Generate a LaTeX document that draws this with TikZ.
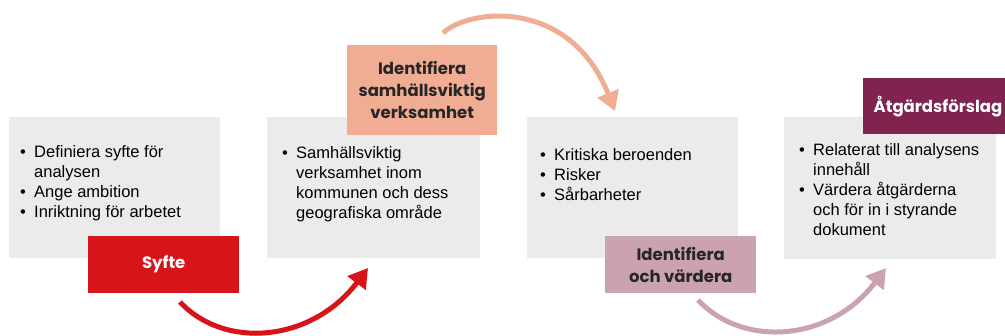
\documentclass[tikz,border=0pt]{standalone}
\usepackage{fontspec}
\setmainfont{Liberation Sans}
\newfontfamily\labfont{Poppins}
\usetikzlibrary{arrows.meta}
\definecolor{boxgray}{HTML}{EBEBEB}
\definecolor{cred}{HTML}{D7141A}
\definecolor{csalmon}{HTML}{F0AD94}
\definecolor{cmauve}{HTML}{CBA3B0}
\definecolor{cpurple}{HTML}{80244F}
\definecolor{ctext}{HTML}{262626}
\newcommand\bl{\makebox[14pt][l]{\textbullet}}
\tikzset{
  panel/.style={fill=boxgray, draw=none, anchor=north west, inner sep=0pt},
  tag/.style={draw=none, anchor=north west, inner sep=0pt},
  tagtext/.style={font=\labfont\bfseries\fontsize{16.5}{22}\selectfont, align=center, inner sep=0pt},
  bullets/.style={anchor=base west, inner sep=0pt, font=\fontsize{16.5}{20}\selectfont, text=black},
  flow/.style={line width=5pt, -{Triangle[length=19pt,width=22pt]}},
}
\begin{document}
\begin{tikzpicture}[x=1pt,y=-1pt]
\useasboundingbox (0,0) rectangle (1005,336);
% grey panels
\node[panel, minimum width=211pt, minimum height=141pt] (g1) at (9,117) {};
\node[panel, minimum width=213pt, minimum height=141pt] (g2) at (267,117) {};
\node[panel, minimum width=211pt, minimum height=141pt] (g3) at (527,117) {};
\node[panel, minimum width=212pt, minimum height=142pt] (g4) at (784,117) {};
% bullet texts
\node[bullets] (t1) at (20,158) {\begin{tabular}[t]{@{}l@{}l@{}}\bl & Definiera syfte för\\ & analysen\\ \bl & Ange ambition\\ \bl & Inriktning för arbetet\end{tabular}};
\node[bullets] (t2) at (282,159) {\begin{tabular}[t]{@{}l@{}l@{}}\bl & Samhällsviktig\\ & verksamhet inom\\ & kommunen och dess\\ & geografiska område\end{tabular}};
\node[bullets] (t3) at (540,161) {\begin{tabular}[t]{@{}l@{}l@{}}\bl & Kritiska beroenden\\ \bl & Risker\\ \bl & Sårbarheter\end{tabular}};
\node[bullets] (t4) at (799,156) {\begin{tabular}[t]{@{}l@{}l@{}}\bl & Relaterat till analysens\\ & innehåll\\ \bl & Värdera åtgärderna\\ & och för in i styrande\\ & dokument\end{tabular}};
% tag boxes
\node[tag, fill=cred, minimum width=151pt, minimum height=57pt] (l1) at (88,236) {};
\node[tag, fill=csalmon, minimum width=150pt, minimum height=90pt] (l2) at (347,45) {};
\node[tag, fill=cmauve, minimum width=151pt, minimum height=57pt] (l3) at (605,236) {};
\node[tag, fill=cpurple, minimum width=147pt, minimum height=56pt] (l4) at (863,78) {};
\node[tagtext, text=white] (s1) at (l1.center) {Syfte};
\node[tagtext, text=ctext] (s2) at (l2.center) {Identifiera\\samhällsviktig\\verksamhet};
\node[tagtext, text=ctext] (s3) at (l3.center) {Identifiera\\och värdera};
\node[tagtext, text=white] (s4) at (938,107) {Åtgärdsförslag};
% arrows
\coordinate (a1s) at (180,302);
\coordinate (a1e) at (368,268);
\coordinate (a2s) at (443,33);
\coordinate (a2e) at (615,111);
\coordinate (a3s) at (698,300);
\coordinate (a3e) at (886,268);
\draw[flow, color=cred] (a1s) .. controls (225,350) and (312,342) .. (a1e);
\draw[flow, color=csalmon] (a2s) .. controls (470,8) and (570,-2) .. (a2e);
\draw[flow, color=cmauve] (a3s) .. controls (743,348) and (830,342) .. (a3e);
\end{tikzpicture}
\end{document}
